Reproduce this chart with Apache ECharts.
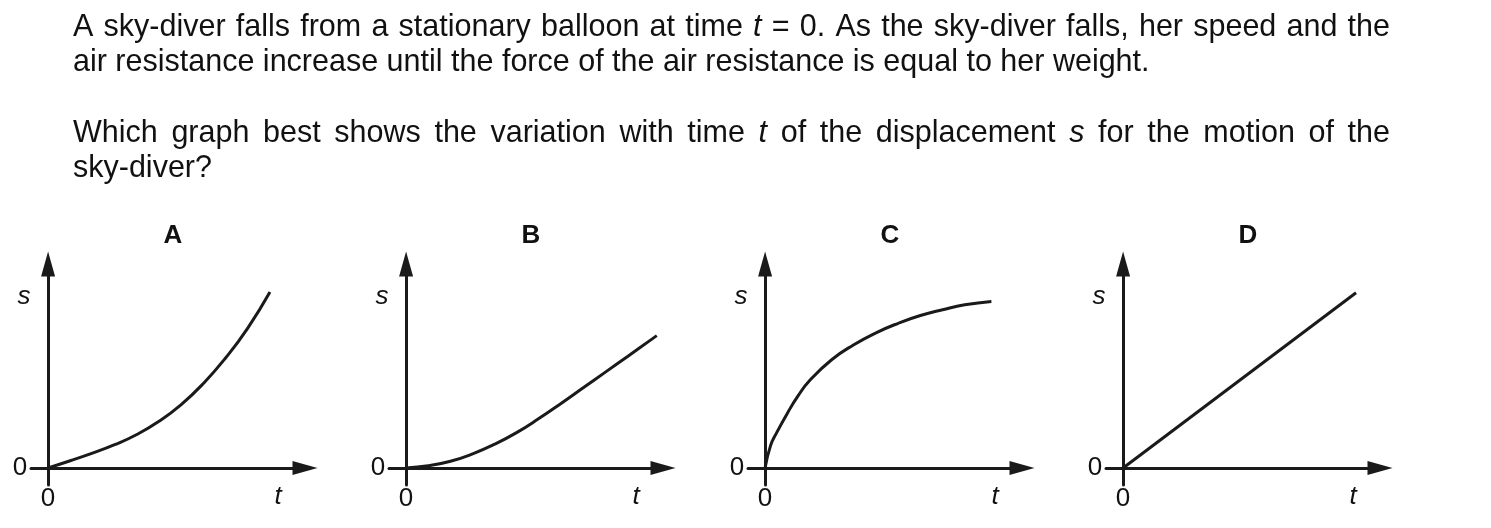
<!DOCTYPE html>
<html>
<head>
<meta charset="utf-8">
<script src="https://cdn.jsdelivr.net/npm/echarts@6/dist/echarts.min.js"></script>
<style>
html,body{margin:0;padding:0;background:#fff;}
#c{width:1491px;height:528px;}
</style>
</head>
<body>
<div id="c"></div>
<script>
// ---- data (arbitrary units) ----
const panelTitles = ['A', 'B', 'C', 'D'];
const tA = [0, 1, 2, 3, 4, 5, 6, 7, 8, 9, 10];
const sA = [0, 0.41, 0.84, 1.32, 1.90, 2.65, 3.60, 4.80, 6.25, 7.95, 10.0];
const tB = [0, 1, 2, 3, 4, 5, 6, 7, 8, 9, 10, 11, 11.3];
const sB = [0, 0.12, 0.38, 0.80, 1.35, 2.02, 2.82, 3.68, 4.57, 5.46, 6.35, 7.25, 7.52];
const tC = [0, 0.25, 0.5, 1, 1.5, 2, 3, 4, 5, 6, 7, 8, 9, 10.2];
const sC = [0, 1.28, 1.95, 3.1, 4.12, 4.95, 6.15, 7.0, 7.68, 8.22, 8.66, 8.99, 9.27, 9.46];
const tD = [0, 10.5];
const sD = [0, 9.96];
const originTick = '0';
const xName = 't';
const yName = 's';
const line1 = ['A','sky-diver','falls','from','a','stationary','balloon','at','time','*t','=','0.','As','the','sky-diver','falls,','her','speed','and','the'];
const line2 = 'air resistance increase until the force of the air resistance is equal to her weight.';
const line3 = ['Which','graph','best','shows','the','variation','with','time','*t','of','the','displacement','*s','for','the','motion','of','the'];
const line4 = 'sky-diver?';

// ---- layout ----
const INK = '#1a1a1a';
const FONT = '"Liberation Sans", Arial, sans-serif';
const originsX = [48, 406, 765, 1123];
const originY = 468;
const gridTop = 264, gridH = 221, stub = 17, reach = 257;
const xMin = -0.77, xMax = 11.58, yMin = -0.97, yMax = 11.59;

const series = [[tA, sA, true], [tB, sB, true], [tC, sC, true], [tD, sD, false]];

const grid = [], xAxis = [], yAxis = [], ser = [], graphic = [];
const axisLine = {
  show: true, onZero: true,
  symbol: ['none', 'triangle'], symbolSize: [14, 25],
  lineStyle: { color: INK, width: 3 }
};
originsX.forEach((ox, i) => {
  grid.push({ left: ox - stub, top: gridTop, width: stub + reach, height: gridH, containLabel: false });
  xAxis.push({ type: 'value', gridIndex: i, min: xMin, max: xMax, axisLine, axisTick: { show: false }, axisLabel: { show: false }, splitLine: { show: false } });
  yAxis.push({ type: 'value', gridIndex: i, min: yMin, max: yMax, axisLine, axisTick: { show: false }, axisLabel: { show: false }, splitLine: { show: false } });
  const [tt, ss, sm] = series[i];
  ser.push({
    type: 'line', xAxisIndex: i, yAxisIndex: i,
    data: tt.map((t, k) => [t, ss[k]]),
    showSymbol: false, smooth: sm ? 0.5 : false,
    lineStyle: { color: INK, width: 3 }, silent: true, animation: false
  });
  const lbl = (text, x, y, italic, bold, size) => graphic.push({
    type: 'text', silent: true,
    style: { text, x, y, fill: '#111', align: 'center', verticalAlign: 'middle',
      font: `${italic ? 'italic ' : ''}${bold ? 'bold ' : ''}${size}px ${FONT}` }
  });
  lbl(originTick, ox - 28, originY, false, false, 26);
  lbl(originTick, ox, 499, false, false, 26);
  lbl(yName, ox - 24, 297, true, false, 26);
  lbl(xName, ox + 230, 497, true, false, 26);
  lbl(panelTitles[i], ox + 125, 236, false, true, 26);
});

// ---- question text (justified lines measured in the browser) ----
const TFS = 30.5, TX = 73, TR = 1390;
const ctx = document.createElement('canvas').getContext('2d');
function fontFor(it) { return `${it ? 'italic ' : ''}${TFS}px ${FONT}`; }
function justified(words, y) {
  const items = words.map(w => {
    const it = w[0] === '*';
    const txt = it ? w.slice(1) : w;
    ctx.font = fontFor(it);
    return { txt, it, w: ctx.measureText(txt).width };
  });
  const total = items.reduce((a, b) => a + b.w, 0);
  const gap = (TR - TX - total) / (items.length - 1);
  let x = TX;
  items.forEach(o => {
    graphic.push({ type: 'text', silent: true,
      style: { text: o.txt, x, y, fill: '#111', align: 'left', verticalAlign: 'middle', font: fontFor(o.it) } });
    x += o.w + gap;
  });
}
function plain(text, y) {
  graphic.push({ type: 'text', silent: true,
    style: { text, x: TX, y, fill: '#111', align: 'left', verticalAlign: 'middle', font: fontFor(false) } });
}
justified(line1, 28);
plain(line2, 63);
justified(line3, 134);
plain(line4, 169);

const chart = echarts.init(document.getElementById('c'), null, { renderer: 'canvas' });
chart.setOption({
  animation: false,
  backgroundColor: '#ffffff',
  grid, xAxis, yAxis, series: ser, graphic
});
</script>
</body>
</html>
